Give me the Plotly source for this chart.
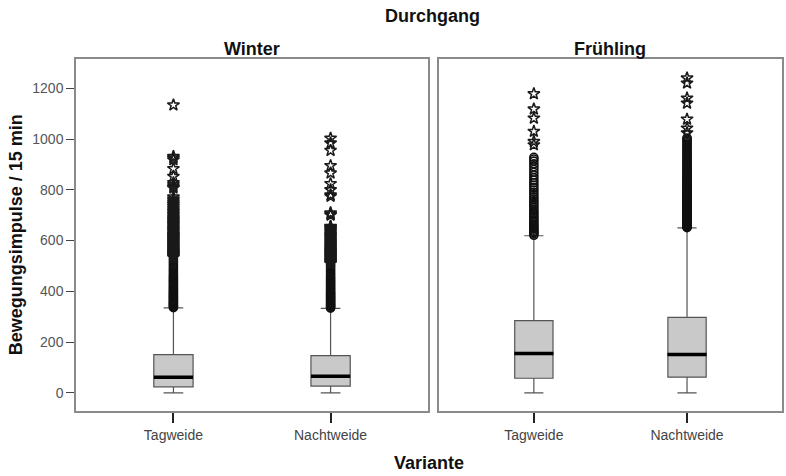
import plotly.graph_objects as go

# ---------------- data ----------------
seasons = ["Winter", "Frühling"]
variants = ["Tagweide", "Nachtweide"]

# box statistics per season, order = variants
lower_fence = {"Winter": [0, 0], "Frühling": [0, 0]}
q1_vals = {"Winter": [24, 27], "Frühling": [58, 62]}
median_vals = {"Winter": [62, 66], "Frühling": [155, 151]}
q3_vals = {"Winter": [151, 147], "Frühling": [285, 298]}
upper_fence = {"Winter": [335, 333], "Frühling": [619, 650]}

# outliers (circles, > 1.5 IQR) per season / variant
winter_tag_out = [336, 339, 342, 345, 348, 351, 354, 357, 360, 363, 367, 370, 374, 377, 381,
                  384, 388, 392, 395, 399, 403, 407, 411, 415, 419, 423, 428, 432, 437, 441,
                  446, 451, 456, 461, 466, 472, 478, 484, 490, 497, 504, 511, 518, 525, 531]
winter_nacht_out = [334, 337, 340, 343, 346, 349, 352, 355, 358, 362, 365, 368, 372, 375, 379,
                    382, 386, 390, 393, 397, 401, 405, 409, 413, 418, 422, 426, 431, 435, 440,
                    445, 450, 455, 460, 466, 471, 477, 483, 489, 495, 501, 506]
fruehling_tag_out = [621, 626, 631, 636, 641, 647, 652, 658, 664, 670, 676, 682, 689, 695, 702,
                     709, 716, 723, 731, 739, 747, 755, 764, 772, 781, 790, 799, 808, 818, 828,
                     838, 848, 858, 869, 880, 891, 902, 913, 921, 928]
fruehling_nacht_out = [651, 653, 655, 657, 659, 661, 663, 665, 667, 669, 671, 673, 675, 677, 680,
                       682, 684, 686, 688, 691, 693, 695, 697, 700, 702, 705, 707, 709, 711, 714,
                       716, 719, 721, 724, 726, 729, 731, 734, 737, 740, 742, 745, 748, 751, 753,
                       756, 759, 762, 765, 768, 771, 774, 777, 781, 784, 787, 790, 794, 797, 801,
                       804, 808, 811, 815, 818, 822, 826, 830, 833, 837, 841, 845, 849, 853, 857,
                       862, 866, 870, 874, 879, 883, 888, 892, 897, 902, 907, 911, 916, 921, 926,
                       931, 936, 941, 947, 952, 958, 963, 969, 974, 980, 985, 991, 996, 1001, 1004]

# extremes (stars, > 3 IQR)
winter_tag_ext = [534, 537, 541, 544, 548, 551, 555, 558, 562, 566, 569, 573, 577, 581, 585,
                  589, 593, 597, 601, 605, 609, 613, 618, 622, 626, 631, 636, 640, 645, 650,
                  655, 660, 665, 670, 675, 681, 686, 692, 698, 704, 710, 716, 722, 729, 736,
                  743, 750, 757, 764, 772, 807, 812, 820, 828, 853, 883, 918, 925, 931, 1134]
winter_nacht_ext = [509, 512, 515, 518, 521, 524, 527, 531, 534, 537, 541, 544, 548, 551, 555,
                    559, 562, 566, 570, 574, 578, 582, 586, 590, 595, 599, 603, 608, 612, 617,
                    621, 626, 631, 636, 641, 646, 650, 653, 656, 700, 705, 709, 774, 780, 800,
                    824, 866, 895, 955, 984, 1003]
fruehling_tag_ext = [977, 990, 1030, 1082, 1118, 1178]
fruehling_nacht_ext = [1024, 1043, 1078, 1141, 1161, 1220, 1240]

outliers = {"Winter": [winter_tag_out, winter_nacht_out],
            "Frühling": [fruehling_tag_out, fruehling_nacht_out]}
extremes = {"Winter": [winter_tag_ext, winter_nacht_ext],
            "Frühling": [fruehling_tag_ext, fruehling_nacht_ext]}

y_ticks = [0, 200, 400, 600, 800, 1000, 1200]

# ---------------- figure ----------------
FONT = "Arial, Liberation Sans, sans-serif"
fig = go.Figure()

axes = [("x", "y"), ("x2", "y2")]
for s, (xa, ya) in zip(seasons, axes):
    fig.add_trace(go.Box(
        x=variants, q1=q1_vals[s], median=median_vals[s], q3=q3_vals[s],
        lowerfence=lower_fence[s], upperfence=upper_fence[s],
        boxpoints=False, width=0.25, whiskerwidth=0.5,
        fillcolor="#c9c9c9", line=dict(color="#555555", width=1.2),
        xaxis=xa, yaxis=ya, showlegend=False, hoverinfo="skip"))
    for v, out, ext in zip(variants, outliers[s], extremes[s]):
        fig.add_trace(go.Scatter(
            x=[v] * len(out), y=out, mode="markers",
            marker=dict(symbol="circle-open", size=8, color="#111111", line=dict(width=1.6)),
            xaxis=xa, yaxis=ya, showlegend=False, hoverinfo="skip"))
        fig.add_trace(go.Scatter(
            x=[v] * len(ext), y=ext, mode="markers",
            marker=dict(symbol="star-open", size=9, color="#1a1a1a", line=dict(width=1.5)),
            xaxis=xa, yaxis=ya, showlegend=False, hoverinfo="skip"))
    # thick median line
    fig.add_trace(go.Scatter(
        x=variants, y=median_vals[s], mode="markers",
        marker=dict(symbol="line-ew", size=28, line=dict(color="black", width=3.5)),
        xaxis=xa, yaxis=ya, showlegend=False, hoverinfo="skip"))

frame = dict(showline=True, mirror=True, linecolor="#8a8a8a", linewidth=1.5,
             showgrid=False, zeroline=False)
xcommon = dict(type="category", categoryorder="array", categoryarray=variants,
               range=[-0.62, 1.62], ticks="outside", ticklen=10, tickwidth=2,
               tickcolor="#222222", tickfont=dict(family=FONT, size=14, color="#444444"),
               **frame)
ycommon = dict(range=[-71, 1315], tickvals=y_ticks, **frame)

title_font = dict(family=FONT, size=18, color="#111111")
fig.update_layout(
    width=786, height=476,
    margin=dict(l=76, r=2, t=59, b=65),
    plot_bgcolor="white", paper_bgcolor="white",
    font=dict(family=FONT),
    xaxis=dict(domain=[0, 0.4986], anchor="y", **xcommon),
    xaxis2=dict(domain=[0.514, 1], anchor="y2", **xcommon),
    yaxis=dict(anchor="x", ticks="outside", ticklen=8, tickcolor="#444444",
               tickfont=dict(family=FONT, size=14, color="#555555"), **ycommon),
    yaxis2=dict(anchor="x2", matches="y", showticklabels=False, ticks="", **ycommon),
    annotations=[
        dict(text="<b>Durchgang</b>", xref="paper", yref="paper", x=0.505, y=1.0,
             xanchor="center", yanchor="middle", yshift=43, showarrow=False, font=title_font),
        dict(text="<b>Winter</b>", xref="paper", yref="paper", x=0.2493, y=1.0,
             xanchor="center", yanchor="middle", yshift=10, showarrow=False, font=title_font),
        dict(text="<b>Frühling</b>", xref="paper", yref="paper", x=0.757, y=1.0,
             xanchor="center", yanchor="middle", yshift=10, showarrow=False, font=title_font),
        dict(text="<b>Variante</b>", xref="paper", yref="paper", x=0.5, y=0.0,
             xanchor="center", yanchor="middle", yshift=-52, showarrow=False, font=title_font),
        dict(text="<b>Bewegungsimpulse / 15 min</b>", xref="paper", yref="paper",
             x=-0.0847, y=0.5, xanchor="center", yanchor="middle", textangle=-90,
             showarrow=False, font=title_font),
    ],
)

fig.write_html("out.html", config={"displayModeBar": False},
               post_script="document.body.style.margin='0';document.body.style.padding='0';")
